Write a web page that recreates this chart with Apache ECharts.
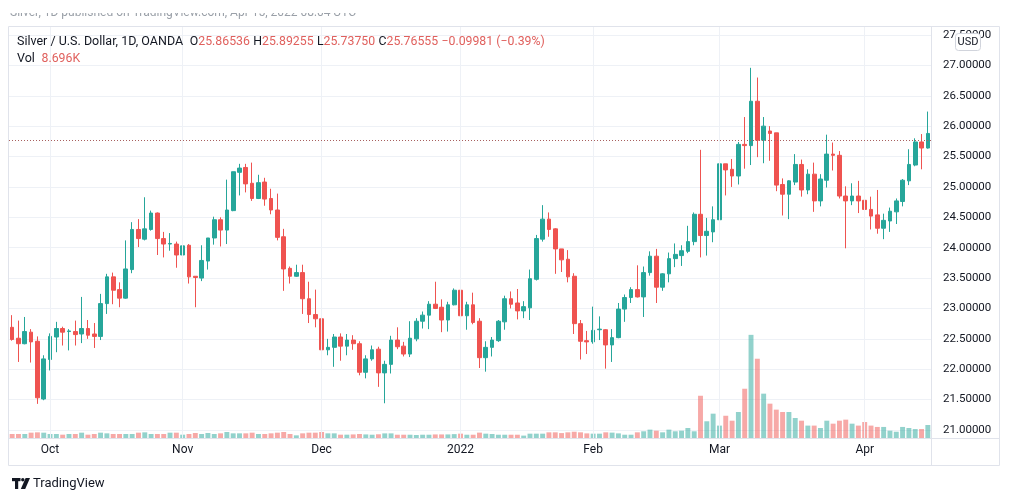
<!DOCTYPE html>
<html>
<head>
<meta charset="utf-8">
<script src="https://cdn.jsdelivr.net/npm/echarts@6/dist/echarts.min.js"></script>
<style>
html,body{margin:0;padding:0;background:#ffffff;}
#chart{width:1012px;height:501px;}
</style>
</head>
<body>
<div id="chart"></div>
<script>
// ---------- DATA ----------
const firstDay = '2021-09-23';
const lastDay = '2022-04-15';
const missingDays = ['2021-12-24'];

const openPrices = [
 22.69,22.51,22.42,22.61,22.46,21.51,22.16,22.53,22.67,22.62,
 22.62,22.58,22.67,22.58,22.54,23.08,23.52,23.31,23.17,23.64,
 24.30,24.14,24.30,24.57,24.15,24.06,24.06,23.88,24.04,23.53,
 23.50,23.78,24.16,24.46,24.29,24.61,25.24,25.32,25.06,24.81,
 25.08,24.81,24.62,24.18,23.66,23.53,23.59,23.16,22.90,22.83,
 22.32,22.36,22.53,22.38,22.48,22.42,21.95,22.17,22.33,21.94,
 22.08,22.48,22.38,22.25,22.50,22.79,22.89,23.07,23.02,22.81,
 23.06,23.30,22.88,23.06,22.79,22.19,22.36,22.47,22.78,23.16,
 23.09,22.96,23.01,23.48,24.14,24.47,24.31,23.98,23.81,23.53,
 22.75,22.47,22.45,22.65,22.65,22.40,22.52,22.99,23.18,23.31,
 23.19,23.59,23.86,23.35,23.57,23.82,23.87,23.94,24.10,24.55,
 24.20,24.26,24.46,25.38,25.29,25.18,25.70,25.68,26.41,25.77,
 25.92,25.89,25.04,24.88,25.08,25.37,24.95,25.21,24.77,25.11,
 25.54,25.52,24.85,24.77,24.85,24.78,24.63,24.54,24.32,24.44,
 24.59,24.76,25.10,25.36,25.74,25.64
];
const closePrices = [
 22.49,22.42,22.62,22.45,21.53,22.17,22.54,22.67,22.61,22.63,
 22.57,22.67,22.56,22.54,23.08,23.52,23.30,23.17,23.65,24.30,
 24.15,24.31,24.57,24.15,24.06,24.07,23.88,24.03,23.52,23.51,
 23.79,24.16,24.46,24.29,24.62,25.25,25.31,25.05,24.81,25.07,
 24.80,24.62,24.17,23.65,23.53,23.59,23.16,22.90,22.83,22.32,
 22.36,22.53,22.38,22.48,22.42,21.95,22.17,22.32,21.94,22.08,
 22.48,22.37,22.25,22.51,22.79,22.89,23.07,23.00,22.81,23.06,
 23.30,22.88,23.06,22.77,22.19,22.36,22.48,22.79,23.16,23.07,
 22.96,23.03,23.49,24.15,24.47,24.30,23.98,23.80,23.52,22.75,
 22.46,22.45,22.64,22.66,22.40,22.52,22.99,23.18,23.31,23.19,
 23.59,23.86,23.35,23.57,23.82,23.89,23.95,24.10,24.55,24.20,
 24.27,24.46,25.38,25.28,25.18,25.70,25.68,26.41,25.77,26.00,
 25.88,25.03,24.88,25.10,25.37,24.95,25.21,24.77,25.13,25.54,
 25.52,24.85,24.77,24.85,24.77,24.63,24.52,24.32,24.45,24.60,
 24.77,25.11,25.37,25.74,25.64,25.88
];
const lowPrices = [
 22.47,22.12,22.41,22.11,21.43,21.49,21.98,22.28,22.39,22.31,
 22.39,22.43,22.50,22.35,22.48,22.91,23.07,23.02,23.16,23.58,
 24.01,24.12,24.28,23.88,23.84,23.95,23.67,23.75,23.41,23.02,
 23.45,23.64,24.05,24.02,24.06,24.60,24.86,24.91,24.77,24.80,
 24.69,24.55,24.12,23.29,23.41,23.52,22.91,22.76,22.69,22.19,
 22.23,22.04,22.14,22.23,22.32,21.90,21.85,22.14,21.71,21.44,
 21.93,22.33,22.21,22.20,22.46,22.67,22.66,22.99,22.61,22.62,
 23.05,22.69,22.65,22.74,22.02,21.96,22.21,22.45,22.65,23.00,
 22.82,22.84,22.81,23.46,24.10,24.18,23.57,23.60,23.43,22.58,
 22.16,22.25,22.42,22.48,22.01,22.12,22.51,22.78,23.09,23.18,
 22.86,23.54,23.09,23.29,23.43,23.68,23.70,23.91,24.04,23.84,
 23.87,24.09,24.28,24.86,25.00,25.04,25.30,25.36,25.49,25.39,
 25.43,24.93,24.53,24.47,25.03,24.84,24.88,24.59,24.68,24.99,
 25.27,24.81,23.99,24.70,24.57,24.43,24.30,24.23,24.14,24.26,
 24.39,24.68,25.03,25.34,25.29,25.63
];
const highPrices = [
 22.89,22.80,22.86,22.66,22.54,22.23,22.59,22.78,22.70,22.66,
 22.80,23.19,22.81,22.76,23.24,23.57,23.59,23.43,24.12,24.42,
 24.47,24.83,24.61,24.58,24.26,24.24,24.10,24.07,24.06,23.53,
 24.04,24.16,24.51,24.50,25.12,25.25,25.38,25.38,25.40,25.20,
 25.15,24.97,24.89,24.31,23.69,23.72,23.72,23.44,23.31,23.03,
 22.50,22.58,22.59,22.58,22.56,22.46,22.23,22.39,22.37,22.14,
 22.55,22.69,22.45,22.79,22.84,22.95,23.12,23.44,23.15,23.11,
 23.33,23.40,23.11,23.26,22.84,22.46,22.53,22.81,23.21,23.28,
 23.32,23.12,23.64,24.21,24.70,24.58,24.32,23.98,23.96,23.58,
 22.81,22.63,23.03,22.87,22.66,22.66,23.09,23.23,23.35,23.71,
 23.69,23.94,23.98,23.58,23.92,24.07,24.04,24.36,24.58,25.61,
 24.49,24.68,25.53,25.38,25.46,25.74,26.15,26.96,26.80,26.15,
 26.00,25.89,25.14,25.11,25.54,25.45,25.29,25.40,25.21,25.86,
 25.73,25.59,25.01,25.06,25.10,24.85,24.84,24.95,24.56,24.66,
 24.81,25.13,25.62,25.80,25.87,26.24
];
// volume in thousands
const volumeK = [
 2.68,2.68,2.68,3.57,3.79,3.57,2.68,2.68,2.23,2.68,
 2.68,3.57,2.23,2.68,3.57,3.12,2.68,2.68,2.68,2.68,
 3.57,3.79,2.68,2.68,2.68,3.57,3.57,2.23,2.68,3.35,
 2.68,3.35,2.68,3.12,4.01,3.12,3.12,3.12,3.57,2.68,
 2.68,3.12,3.57,4.01,2.68,1.78,3.12,3.57,3.57,4.01,
 3.12,3.12,2.23,2.23,2.40,2.70,2.40,2.20,2.50,3.10,
 3.10,2.20,2.20,2.20,2.00,2.20,2.20,2.40,2.40,2.40,
 2.60,2.90,2.20,2.20,3.60,2.90,2.70,2.20,2.20,2.20,
 2.20,1.60,2.90,2.90,2.90,3.80,3.80,3.30,3.80,4.20,
 3.80,3.10,2.90,2.90,3.80,3.60,3.10,2.20,2.20,3.80,
 4.50,5.60,4.90,3.80,5.60,4.50,4.90,6.70,4.50,28.3,
 11.2,16.3,8.30,14.9,11.6,17.4,33.0,69.1,53.1,29.7,
 23.0,19.0,17.4,17.4,13.4,11.6,8.30,8.30,6.70,11.6,
 9.60,11.6,12.3,9.60,8.30,10.7,8.30,7.40,7.40,4.90,
 4.20,7.40,6.70,6.00,6.00,8.696
];
const priceTicks = { min: 21, max: 27.5, step: 0.5 };
const lastPrice = 25.76555;
const monthNames = ['Jan','Feb','Mar','Apr','May','Jun','Jul','Aug','Sep','Oct','Nov','Dec'];
const headerSymbol = 'Silver / U.S. Dollar, 1D, OANDA';
const headerOHLC = { O: '25.86536', H: '25.89255', L: '25.73750', C: '25.76555' };
const headerChange = '\u22120.09981 (\u22120.39%)';
const headerVolume = '8.696K';
const publishedText = 'Silver, 1D published on TradingView.com, Apr 15, 2022 08:04 UTC';

// ---------- trading-day categories ----------
const dates = [];
(function () {
  const d = new Date(firstDay + 'T00:00:00Z');
  const end = new Date(lastDay + 'T00:00:00Z');
  while (d <= end) {
    const wd = d.getUTCDay();
    const s = d.toISOString().slice(0, 10);
    if (wd !== 0 && wd !== 6 && missingDays.indexOf(s) < 0) dates.push(s);
    d.setUTCDate(d.getUTCDate() + 1);
  }
})();

function isMonthStart(i) {
  if (i <= 0) return false;
  return dates[i].slice(0, 7) !== dates[i - 1].slice(0, 7);
}
function monthLabel(v) {
  const m = parseInt(v.slice(5, 7), 10);
  return m === 1 ? v.slice(0, 4) : monthNames[m - 1];
}

const UP = '#26a69a', DOWN = '#ef5350';
const UP_VOL = 'rgba(38,166,154,0.5)', DOWN_VOL = 'rgba(239,83,80,0.5)';
const TXT = '#131722';
const GRID = '#eef1f6';
const FONT = 'Roboto, "Liberation Sans", sans-serif';

const candleData = dates.map((d, i) => [openPrices[i], closePrices[i], lowPrices[i], highPrices[i]]);
const volData = dates.map((d, i) => ({
  value: volumeK[i],
  itemStyle: { color: closePrices[i] >= openPrices[i] ? UP_VOL : DOWN_VOL }
}));
const monthLines = dates.map((d, i) => i).filter(isMonthStart).map(i => ({ xAxis: dates[i] }));

const chart = echarts.init(document.getElementById('chart'), null, { renderer: 'canvas' });

const option = {
  animation: false,
  backgroundColor: '#ffffff',
  textStyle: { fontFamily: FONT },
  grid: [
    { left: 9, right: 81, top: 35, height: 395 },
    { left: 9, right: 81, top: 26, height: 412 }
  ],
  xAxis: [
    {
      type: 'category', gridIndex: 0, data: dates, boundaryGap: true,
      axisLine: { show: false }, axisTick: { show: false },
      axisLabel: { show: false }, splitLine: { show: false }
    },
    {
      type: 'category', gridIndex: 1, data: dates, boundaryGap: true,
      axisLine: { show: false }, axisTick: { show: false },
      axisLabel: {
        interval: (i) => isMonthStart(i),
        formatter: (v) => monthLabel(v),
        color: TXT, fontSize: 12, fontFamily: FONT, margin: 6
      },
      splitLine: { show: false }
    }
  ],
  yAxis: [
    {
      type: 'value', gridIndex: 0, position: 'right',
      min: priceTicks.min, max: priceTicks.max, interval: priceTicks.step,
      axisLine: { show: false }, axisTick: { show: false },
      axisLabel: {
        formatter: (v) => v.toFixed(5), color: TXT, fontSize: 11.5,
        fontFamily: FONT, margin: 12
      },
      splitLine: { show: true, lineStyle: { color: GRID, width: 1 } }
    },
    { type: 'value', gridIndex: 1, min: 0, max: 276, show: false }
  ],
  series: [
    {
      type: 'bar', xAxisIndex: 1, yAxisIndex: 1, data: volData,
      barWidth: '78%', z: 1, silent: true,
      markLine: {
        silent: true, symbol: 'none', label: { show: false },
        lineStyle: { color: GRID, type: 'solid', width: 1 },
        data: monthLines
      }
    },
    {
      type: 'candlestick', xAxisIndex: 0, yAxisIndex: 0, data: candleData,
      barWidth: '66%', z: 3,
      itemStyle: { color: UP, color0: DOWN, borderColor: UP, borderColor0: DOWN, borderWidth: 1 },
      markLine: {
        silent: true, symbol: 'none', label: { show: false },
        lineStyle: { color: '#a8605e', type: [1, 2], width: 1 },
        data: [{ yAxis: lastPrice }]
      }
    }
  ],
  graphic: [
    // published line (partially hidden at the top)
    { type: 'text', left: 10, top: 7, z: 1,
      style: { text: publishedText, fill: '#9aa0a8', font: '12px ' + FONT } },
    { type: 'rect', shape: { x: 0, y: 0, width: 1012, height: 13 }, style: { fill: '#ffffff' }, z: 2 },
    // frame
    { type: 'rect', shape: { x: 8.5, y: 26.5, width: 991, height: 439 },
      style: { fill: 'none', stroke: '#e0e3eb', lineWidth: 1 }, z: 10, silent: true },
    { type: 'line', shape: { x1: 931.5, y1: 26, x2: 931.5, y2: 466 },
      style: { stroke: '#e0e3eb', lineWidth: 1 }, z: 10 },
    { type: 'line', shape: { x1: 8, y1: 438.5, x2: 1000, y2: 438.5 },
      style: { stroke: '#e0e3eb', lineWidth: 1 }, z: 10 },
    // USD box
    { type: 'rect', shape: { x: 955.5, y: 33.5, width: 25, height: 17, r: 3 },
      style: { fill: '#ffffff', stroke: '#d1d4dc', lineWidth: 1 }, z: 20 },
    { type: 'text', x: 968, y: 42, z: 21,
      style: { text: 'USD', fill: TXT, font: '11px ' + FONT, align: 'center', verticalAlign: 'middle' } },
    // header
    { type: 'text', left: 17, top: 35, z: 20,
      style: {
        text: '{t|' + headerSymbol + '}  {k|O}{v|' + headerOHLC.O + '} {k|H}{v|' + headerOHLC.H +
              '} {k|L}{v|' + headerOHLC.L + '} {k|C}{v|' + headerOHLC.C + '} {v|' + headerChange + '}',
        rich: {
          t: { fill: TXT, fontSize: 12.5, fontFamily: FONT },
          k: { fill: TXT, fontSize: 12.3, fontFamily: FONT },
          v: { fill: '#e0605d', fontSize: 12.3, fontFamily: FONT }
        }
      } },
    { type: 'text', left: 17, top: 52, z: 20,
      style: {
        text: '{t|Vol}  {v|' + headerVolume + '}',
        rich: {
          t: { fill: TXT, fontSize: 12.5, fontFamily: FONT },
          v: { fill: '#e0605d', fontSize: 12.3, fontFamily: FONT }
        }
      } },
    // TradingView logo
    { type: 'group', left: 12, top: 478, z: 20, children: [
      { type: 'rect', shape: { x: 0, y: 0, width: 8.5, height: 3.2 }, style: { fill: TXT } },
      { type: 'rect', shape: { x: 3, y: 0, width: 3.2, height: 11 }, style: { fill: TXT } },
      { type: 'circle', shape: { cx: 10.8, cy: 1.7, r: 1.7 }, style: { fill: TXT } },
      { type: 'polygon', shape: { points: [[13.6, 0], [18, 0], [13.2, 11], [8.8, 11]] }, style: { fill: TXT } }
    ] },
    { type: 'text', left: 33, top: 477, z: 20,
      style: { text: 'TradingView', fill: TXT, font: '13px ' + FONT } }
  ]
};

chart.setOption(option);
</script>
</body>
</html>
